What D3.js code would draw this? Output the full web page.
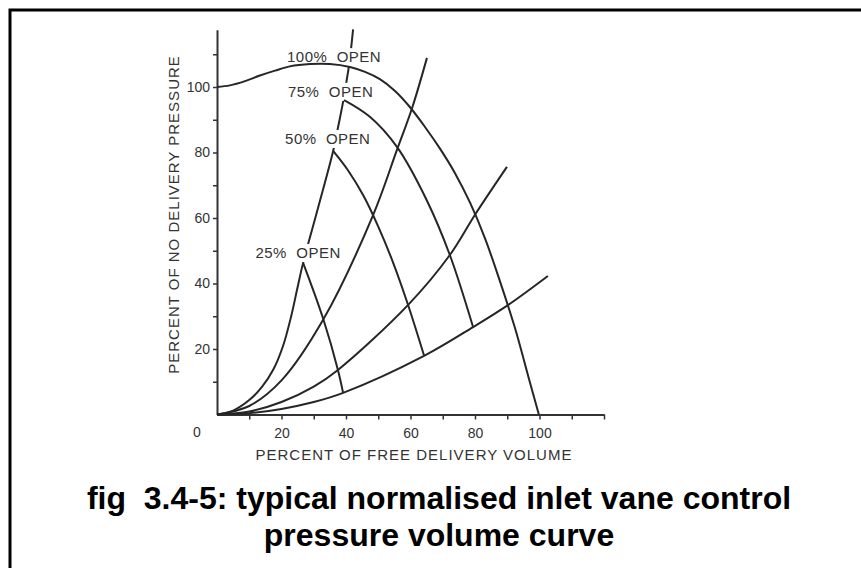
<!DOCTYPE html>
<html>
<head>
<meta charset="utf-8">
<script src="https://cdn.jsdelivr.net/npm/d3@7"></script>
<style>
  body { margin: 0; background: #fff; }
  svg { display: block; }
  text { font-family: "Liberation Sans", Arial, Helvetica, sans-serif; }
</style>
</head>
<body>
<script>
let w = 861
let h = 568

// [percent of free delivery volume, percent of no delivery pressure]
let open100 = [[0,100],[4,100.5],[8.7,101.8],[13.3,103.5],[18,105],[22.6,106.3],[28.8,107],[35,107],[41.2,106.1],[45.9,104.6],[50.5,102.4],[55.2,98.8],[59.8,93.9],[64.5,87.8],[69.2,81.1],[73.8,73.7],[78.5,64.6],[83.1,53.8],[87.8,40.5],[92.4,26.4],[97,9.9],[99.8,0]]
let open75 = [[39.4,96],[47.4,90.9],[55.8,81.7],[65,65.5],[72.2,48.7],[79.4,26.7]]
let open50 = [[36,80.5],[40.6,74.6],[45.3,67],[49.9,57.6],[54.6,46.4],[59.2,33.6],[64.2,18]]
let open25 = [[26.7,46.3],[33,29],[37.5,13.6],[39.1,6.6]]

// curves from the origin (the steepest one runs through the peaks)
let surge = [[0,0],[5,1.2],[10,4.4],[14,8.5],[17.5,13.8],[20.5,21],[23,30],[24.8,38],[26.7,46.3],[31.3,63],[36,80.4],[37.6,88],[39.2,96],[40.2,102],[41,107],[41.6,112],[42.2,117.6]]
let sysB = [[0,0],[10,2.6],[20,10.4],[32.9,28.9],[48.4,60.9],[55.8,80.8],[60.5,93.6],[65.1,108.9]]
let sysC = [[0,0],[10,0.9],[20,3.8],[30,8.5],[37.5,13.6],[59.2,33.4],[72.2,48.7],[80,61],[89.9,75.6]]
let sysD = [[0,0],[10,0.4],[20,1.7],[30,3.8],[39.1,6.6],[64.2,17.9],[79.4,26.7],[90.2,33.4],[102.6,42.3]]

let labels = ["100%  OPEN", "75%  OPEN", "50%  OPEN", "25%  OPEN"]
let xTicks = [10,20,30,40,50,60,70,80,90,100,110,120]
let yTicks = [10,20,30,40,50,60,70,80,90,100,110]
let xLabels = [20,40,60,80,100]
let yLabels = [20,40,60,80,100]

let svg = d3.select("body").append("svg")
  .attr("width", w)
  .attr("height", h)

// frame
svg.append("rect")
  .attr("x", 10).attr("y", 10)
  .attr("width", 900).attr("height", 700)
  .attr("fill", "none")
  .attr("stroke", "#000")
  .attr("stroke-width", 3)

let x = d3.scaleLinear().domain([0, 120]).range([217, 604])
let y = d3.scaleLinear().domain([0, 117.5]).range([414.5, 29.7])

let ink = "#333"

// axes
let xAxis = svg.append("g")
  .attr("transform", "translate(0," + y(0) + ")")
  .call(d3.axisBottom(x).tickValues(xTicks).tickSize(5).tickSizeOuter(0).tickPadding(9)
    .tickFormat(d => xLabels.includes(d) ? d : ""))
let yAxis = svg.append("g")
  .attr("transform", "translate(" + x(0) + ",0)")
  .call(d3.axisLeft(y).tickValues(yTicks).tickSize(4).tickSizeOuter(0).tickPadding(3)
    .tickFormat(d => yLabels.includes(d) ? d : ""))

;[xAxis, yAxis].forEach(a => {
  a.select(".domain").attr("stroke", ink).attr("stroke-width", 2)
  a.selectAll(".tick line").attr("stroke", ink).attr("stroke-width", 1.5)
  a.selectAll(".tick text").attr("fill", ink).style("font-size", "14px").style("font-family", "'Liberation Sans', Arial, sans-serif")
})

svg.append("text")
  .attr("x", x(0) - 20)
  .attr("y", y(0) + 22)
  .attr("text-anchor", "middle")
  .attr("fill", ink)
  .style("font-size", "14px")
  .text("0")

// axis titles
svg.append("text")
  .attr("x", 414)
  .attr("y", 460)
  .attr("text-anchor", "middle")
  .attr("fill", ink)
  .style("font-size", "15px")
  .style("letter-spacing", "1px")
  .text("PERCENT OF FREE DELIVERY VOLUME")

svg.append("text")
  .attr("transform", "translate(178.5,214.5) rotate(-90)")
  .attr("text-anchor", "middle")
  .attr("fill", ink)
  .style("font-size", "15px")
  .style("letter-spacing", "1px")
  .text("PERCENT OF NO DELIVERY PRESSURE")

// curve labels
let labelAt = [[21.7,107.6],[22.0,97.0],[21.1,82.6],[11.9,47.8]]
let labelG = svg.append("g")
let labelNodes = labels.map((t, i) => labelG.append("text")
  .attr("x", x(labelAt[i][0]))
  .attr("y", y(labelAt[i][1]))
  .attr("fill", ink)
  .style("font-size", "15px")
  .style("letter-spacing", "0.5px")
  .style("white-space", "pre")
  .text(t))

// mask so the surge line breaks around the labels
let mask = svg.append("defs").append("mask").attr("id", "gap")
mask.append("rect").attr("width", w).attr("height", h).attr("fill", "#fff")
labelNodes.forEach(n => {
  let b = n.node().getBBox()
  mask.append("rect")
    .attr("x", b.x - 3).attr("y", b.y)
    .attr("width", b.width + 6).attr("height", b.height + 1)
    .attr("fill", "#000")
})

let line = d3.line()
  .x(d => x(d[0]))
  .y(d => y(d[1]))
  .curve(d3.curveCatmullRom.alpha(0.5))

let curves = [open100, open75, open50, open25, sysB, sysC, sysD]
svg.append("g").selectAll("path")
  .data(curves)
  .enter()
  .append("path")
  .attr("d", line)
  .attr("fill", "none")
  .attr("stroke", "#262626")
  .attr("stroke-width", 2)

svg.append("path")
  .attr("d", line(surge))
  .attr("fill", "none")
  .attr("stroke", "#262626")
  .attr("stroke-width", 2)
  .attr("mask", "url(#gap)")

// title
svg.append("text")
  .attr("x", 439)
  .attr("y", 509)
  .attr("text-anchor", "middle")
  .attr("fill", "#000")
  .style("font-size", "32px")
  .style("font-weight", "bold")
  .style("white-space", "pre")
  .text("fig  3.4-5: typical normalised inlet vane control")

svg.append("text")
  .attr("x", 439)
  .attr("y", 546)
  .attr("text-anchor", "middle")
  .attr("fill", "#000")
  .style("font-size", "32px")
  .style("font-weight", "bold")
  .text("pressure volume curve")
</script>
</body>
</html>
